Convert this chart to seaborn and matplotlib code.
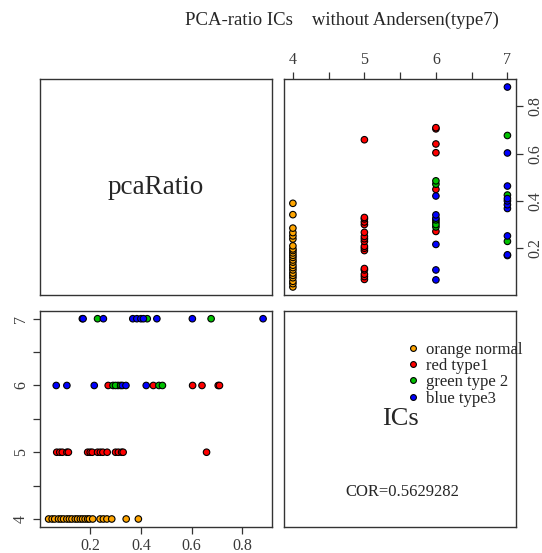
import matplotlib
matplotlib.use("Agg")
import matplotlib.pyplot as plt
from matplotlib.lines import Line2D
import pandas as pd
import seaborn as sns

# pcaRatio values and IC counts per group
orange_ratio = [0.036, 0.05, 0.06, 0.075, 0.085, 0.095, 0.108, 0.118, 0.128, 0.141, 0.15,
                0.161, 0.17, 0.18, 0.19, 0.197, 0.21, 0.239, 0.252, 0.266, 0.285, 0.342, 0.39]
orange_ics = [4] * len(orange_ratio)

red_ratio = [0.068, 0.08, 0.09, 0.108, 0.114, 0.19, 0.2, 0.208, 0.229, 0.24, 0.25, 0.267,
             0.30, 0.311, 0.324, 0.33, 0.659,
             0.271, 0.31, 0.449, 0.604, 0.641, 0.705, 0.71]
red_ics = [5] * 17 + [6] * 7

green_ratio = [0.29, 0.30, 0.32, 0.471, 0.485,
               0.229, 0.425, 0.677]
green_ics = [6] * 5 + [7] * 3

blue_ratio = [0.066, 0.108, 0.216, 0.327, 0.341, 0.421,
              0.169, 0.172, 0.252, 0.368, 0.384, 0.40, 0.41, 0.463, 0.603, 0.882]
blue_ics = [6] * 6 + [7] * 10

group_names = ["orange normal", "red type1", "green type 2", "blue type3"]
group_colors = ["orange", "red", "#00c000", "blue"]

df = pd.concat([
    pd.DataFrame({"pcaRatio": orange_ratio, "ICs": orange_ics, "group": group_names[0]}),
    pd.DataFrame({"pcaRatio": red_ratio, "ICs": red_ics, "group": group_names[1]}),
    pd.DataFrame({"pcaRatio": green_ratio, "ICs": green_ics, "group": group_names[2]}),
    pd.DataFrame({"pcaRatio": blue_ratio, "ICs": blue_ics, "group": group_names[3]}),
], ignore_index=True)
palette = dict(zip(group_names, group_colors))

sns.set_style("white")
plt.rcParams["font.family"] = ["Liberation Serif", "DejaVu Serif"]

fig = plt.figure(figsize=(5.42, 5.53), dpi=100)
W, H = 542, 553


def panel(x0, y0, x1, y1):
    """Axes from pixel box (top-left origin)"""
    return fig.add_axes([x0 / W, 1 - y1 / H, (x1 - x0) / W, (y1 - y0) / H])


ax_tl = panel(40, 79, 271.7, 295)
ax_tr = panel(284.3, 79, 516, 295)
ax_bl = panel(40, 310.7, 271.7, 527)
ax_br = panel(284.3, 310.7, 516, 527)

for ax in (ax_tl, ax_tr, ax_bl, ax_br):
    for sp in ax.spines.values():
        sp.set_visible(True)
        sp.set_color("#333333")
        sp.set_linewidth(1.0)

for ax in (ax_tl, ax_br):
    ax.set_xticks([])
    ax.set_yticks([])

ax_tl.text(0.5, 0.5, "pcaRatio", ha="center", va="center", fontsize=19.5,
           transform=ax_tl.transAxes)

ic_ticks = [4, 4.5, 5, 5.5, 6, 6.5, 7]
ic_labels = ["4", "", "5", "", "6", "", "7"]
ratio_ticks = [0.2, 0.4, 0.6, 0.8]
ratio_labels = ["0.2", "0.4", "0.6", "0.8"]
scatter_kw = dict(hue="group", palette=palette, legend=False, s=22,
                  edgecolor="black", linewidth=0.8)

# top-right: pcaRatio vs ICs
sns.scatterplot(data=df, x="ICs", y="pcaRatio", ax=ax_tr, **scatter_kw)
ax_tr.set_xlim(3.88, 7.12)
ax_tr.set_ylim(0.002, 0.916)
ax_tr.xaxis.tick_top()
ax_tr.yaxis.tick_right()
ax_tr.set_xticks(ic_ticks)
ax_tr.set_xticklabels(ic_labels)
ax_tr.set_yticks(ratio_ticks)
ax_tr.set_yticklabels(ratio_labels, rotation=90, va="center")
ax_tr.set_xlabel("")
ax_tr.set_ylabel("")

# bottom-left: ICs vs pcaRatio
sns.scatterplot(data=df, x="pcaRatio", y="ICs", ax=ax_bl, **scatter_kw)
ax_bl.set_xlim(0.002, 0.916)
ax_bl.set_ylim(3.88, 7.12)
ax_bl.set_xticks(ratio_ticks)
ax_bl.set_xticklabels(ratio_labels)
ax_bl.set_yticks(ic_ticks)
ax_bl.set_yticklabels(ic_labels, rotation=90, va="center")
ax_bl.set_xlabel("")
ax_bl.set_ylabel("")

for ax in (ax_tr, ax_bl):
    ax.tick_params(direction="out", length=5, width=0.9, color="#333333",
                   labelsize=11.5, labelcolor="#3a3a3a", pad=3,
                   bottom=ax is ax_bl, left=ax is ax_bl,
                   top=ax is ax_tr, right=ax is ax_tr)

# bottom-right: label, legend, correlation
ax_br.text(0.5, 0.5, "ICs", ha="center", va="center", fontsize=19,
           transform=ax_br.transAxes)
ax_br.text(0.51, 0.16, "COR=0.5629282", ha="center", va="center", fontsize=12,
           transform=ax_br.transAxes)
handles = [Line2D([], [], marker="o", linestyle="", markersize=4.2,
                  markerfacecolor=c, markeredgecolor="black", markeredgewidth=0.8)
           for c in group_colors]
leg = ax_br.legend(handles, group_names, loc="upper left", bbox_to_anchor=(0.535, 0.857),
                   frameon=False, fontsize=12, handlelength=0.6, handletextpad=0.45,
                   labelspacing=0.02, borderpad=0, borderaxespad=0)
leg.set_clip_on(False)

fig.text(342 / W, 1 - 20 / H, "PCA-ratio ICs    without Andersen(type7)",
         ha="center", va="center", fontsize=13.5)

plt.savefig("out.png", dpi=100)
plt.close()
